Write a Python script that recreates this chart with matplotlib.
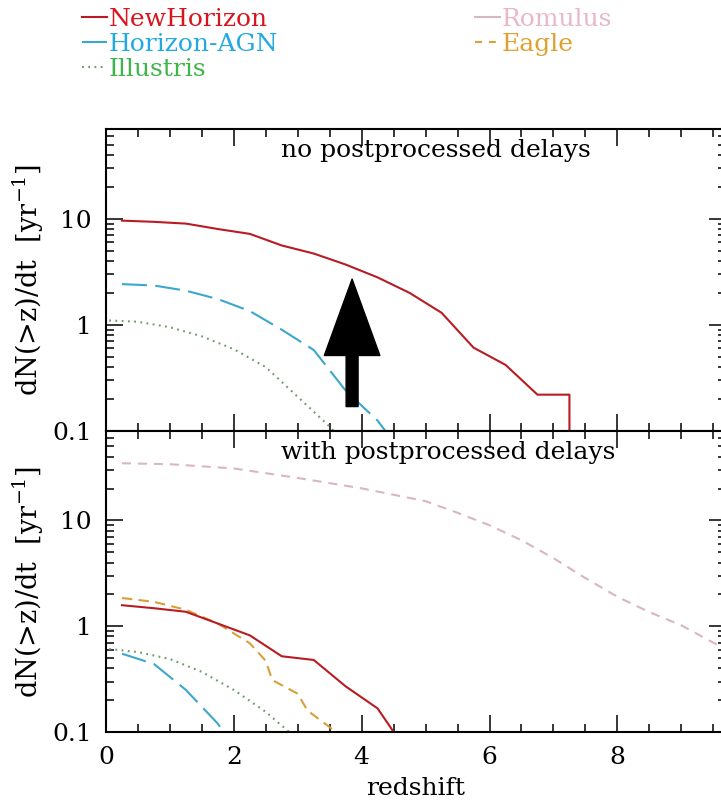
# ================================================    Modules import     =====================================================

import matplotlib
matplotlib.use("Agg")
import matplotlib.pyplot as plt
from matplotlib.lines import Line2D
from matplotlib.ticker import FixedLocator, MultipleLocator, LogLocator, NullFormatter, FuncFormatter

# ================================================          Data             ================================================

# no postprocessed delays (top panel)
z_nh_top = [0.25, 0.75, 1.25, 1.75, 2.25, 2.75, 3.25, 3.75, 4.25, 4.75, 5.25, 5.75, 6.25, 6.75, 7.25, 7.25]
nh_top = [9.6, 9.35, 9.0, 8.0, 7.2, 5.6, 4.7, 3.7, 2.8, 2.0, 1.3, 0.61, 0.42, 0.22, 0.22, 0.01]

z_hagn_top = [0.25, 0.75, 1.25, 1.75, 2.25, 2.75, 3.25, 3.75, 4.25, 4.75]
hagn_top = [2.42, 2.35, 2.1, 1.75, 1.35, 0.9, 0.58, 0.24, 0.125, 0.05]

z_ill_top = [0.05, 0.5, 1.0, 1.5, 2.0, 2.5, 3.0, 3.5, 4.0]
ill_top = [1.1, 1.07, 0.95, 0.78, 0.59, 0.40, 0.21, 0.11, 0.05]

# with postprocessed delays (bottom panel)
z_nh_bot = [0.25, 0.75, 1.25, 1.75, 2.25, 2.75, 3.25, 3.75, 4.25, 4.75]
nh_bot = [1.58, 1.48, 1.37, 1.06, 0.82, 0.52, 0.48, 0.27, 0.167, 0.06]

z_hagn_bot = [0.25, 0.75, 1.25, 1.75, 2.25]
hagn_bot = [0.55, 0.44, 0.25, 0.12, 0.04]

z_ill_bot = [0.05, 0.5, 1.0, 1.5, 2.0, 2.5, 3.0]
ill_bot = [0.61, 0.57, 0.49, 0.37, 0.25, 0.155, 0.085]

z_rom_bot = [0.25, 1.0, 2.0, 3.0, 4.0, 5.0, 5.5, 6.0, 6.5, 7.0, 7.5, 8.0, 8.5, 9.0, 9.75]
rom_bot = [34.7, 34.0, 31.0, 25.2, 20.1, 15.2, 11.8, 9.0, 6.5, 4.4, 2.85, 1.9, 1.36, 1.02, 0.58]

z_eagle_bot = [0.25, 0.75, 1.25, 1.75, 2.25, 2.5, 2.6, 3.0, 3.15, 3.6, 3.8]
eagle_bot = [1.85, 1.7, 1.43, 1.06, 0.69, 0.47, 0.31, 0.23, 0.16, 0.1, 0.08]

# arrow in top panel (redshift, from rate, to rate)
arrow_z = 3.85
arrow_from = 0.17
arrow_to = 2.7

names = ["NewHorizon", "Horizon-AGN", "Illustris", "Romulus", "Eagle"]
panel_titles = ["no postprocessed delays", "with postprocessed delays"]
y_ticks = [0.1, 1, 10]

# ================================================          Style            ================================================

plt.rcParams["font.family"] = ["DejaVu Serif"]
plt.rcParams["mathtext.fontset"] = "dejavuserif"
plt.rcParams["font.size"] = 18
plt.rcParams["lines.scale_dashes"] = False

line_col = {"NewHorizon": "#b81c22", "Horizon-AGN": "#3ba7cf", "Illustris": "#6c9a6c",
            "Romulus": "#d8b6c4", "Eagle": "#d9a03a"}
text_col = {"NewHorizon": "#d8141c", "Horizon-AGN": "#22a9e0", "Illustris": "#3db54a",
            "Romulus": "#e8b8c8", "Eagle": "#e0a030"}
dash = {"NewHorizon": "-", "Horizon-AGN": (0, (18, 6)), "Illustris": (0, (1.3, 3.2)),
        "Romulus": (0, (6.5, 5)), "Eagle": (0, (7.5, 4.5))}

# ================================================          Figure           ================================================

fig = plt.figure(figsize=(7.21, 8.01), dpi=100)
ax_top = fig.add_axes([0.147, 0.4619, 0.86, 0.377])
ax_bot = fig.add_axes([0.147, 0.0861, 0.86, 0.3758])


def draw(ax, z, val, name):
    return ax.plot(z, val, color=line_col[name], lw=1.5, linestyle=dash[name])[0]


h_nh = draw(ax_top, z_nh_top, nh_top, "NewHorizon")
h_hagn = draw(ax_top, z_hagn_top, hagn_top, "Horizon-AGN")
h_ill = draw(ax_top, z_ill_top, ill_top, "Illustris")

draw(ax_bot, z_rom_bot, rom_bot, "Romulus")
draw(ax_bot, z_eagle_bot, eagle_bot, "Eagle")
draw(ax_bot, z_ill_bot, ill_bot, "Illustris")
draw(ax_bot, z_hagn_bot, hagn_bot, "Horizon-AGN")
draw(ax_bot, z_nh_bot, nh_bot, "NewHorizon")

ax_top.annotate("", xy=(arrow_z, arrow_to), xytext=(arrow_z, arrow_from),
                arrowprops=dict(arrowstyle="simple,head_length=55,head_width=40,tail_width=8.6",
                                mutation_scale=1, color="black", shrinkA=0, shrinkB=0))

for ax, title in zip([ax_top, ax_bot], panel_titles):
    ax.set_yscale("log")
    ax.set_xlim(0, 9.7)
    ax.set_ylim(0.1, 70)
    ax.xaxis.set_major_locator(MultipleLocator(2))
    ax.xaxis.set_minor_locator(MultipleLocator(0.5))
    ax.yaxis.set_major_locator(FixedLocator(y_ticks))
    ax.yaxis.set_minor_locator(LogLocator(base=10, subs=range(2, 10)))
    ax.yaxis.set_major_formatter(FuncFormatter(lambda v, p: "%g" % v))
    ax.yaxis.set_minor_formatter(NullFormatter())
    ax.tick_params(which="both", direction="in", top=True, right=True, width=1.1)
    ax.tick_params(which="major", length=12, pad=10)
    ax.tick_params(which="minor", length=6)
    for sp in ax.spines.values():
        sp.set_linewidth(1.5)
    ax.set_ylabel("dN(>z)/dt  [yr$^{-1}$]", labelpad=5, fontsize=19.5)
    ax.text(2.74, 0.93, title, transform=ax.get_xaxis_transform(), va="center", ha="left")

ax_top.tick_params(labelbottom=False)
ax_bot.set_xlabel("redshift", labelpad=6)

# legend on top of the figure
h_rom = Line2D([], [], color=line_col["Romulus"], lw=1.5)
h_eagle = Line2D([], [], color=line_col["Eagle"], lw=1.5, linestyle=(0, (5, 5)))
leg = fig.legend([h_nh, h_hagn, h_ill, h_rom, h_eagle], names, ncol=2, frameon=False,
                 loc="upper left", bbox_to_anchor=(82 / 721, 1 - 8 / 801), borderpad=0,
                 borderaxespad=0, handlelength=1.0, handletextpad=0.05, labelspacing=0.08,
                 columnspacing=7.9, fontsize=18)
for txt, name in zip(leg.get_texts(), names):
    txt.set_color(text_col[name])

fig.savefig("out.png", dpi=100)
plt.close(fig)
